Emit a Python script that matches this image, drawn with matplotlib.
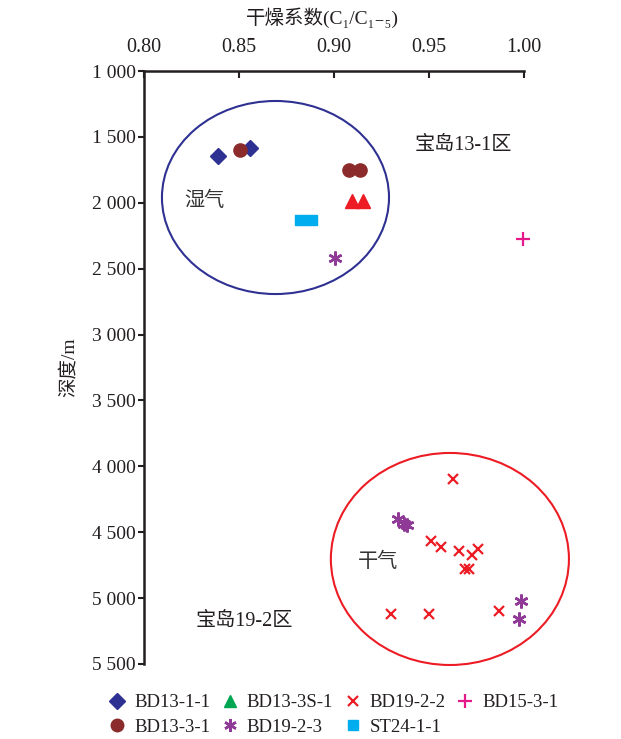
import matplotlib
matplotlib.use("Agg")
import matplotlib.pyplot as plt
from matplotlib.patches import Ellipse
from matplotlib.lines import Line2D
from matplotlib.path import Path

plt.rcParams['font.family'] = ['Liberation Serif', 'Noto Sans CJK SC', 'DejaVu Serif']

# data
bd13_1_1_x = [0.839, 0.856]
bd13_1_1_y = [1645, 1583]
bd13_3_1_x = [0.8505, 0.908, 0.9137]
bd13_3_1_y = [1598, 1750, 1750]
bd13_3s_1_x = [0.9095, 0.915]
bd13_3s_1_y = [1990, 1990]
bd19_2_2_x = [0.9626, 0.951, 0.9563, 0.9658, 0.9726, 0.9758, 0.969, 0.971, 0.930, 0.950, 0.9868]
bd19_2_2_y = [4098, 4568, 4614, 4644, 4674, 4629, 4780, 4780, 5117, 5117, 5095]
bd19_2_3_x = [0.9005, 0.9337, 0.937, 0.9384, 0.9984, 0.9974]
bd19_2_3_y = [2420, 4396, 4439, 4447, 5023, 5159]
bd15_3_1_x = [0.9995]
bd15_3_1_y = [2273]
st24_1_1_x = [0.885]
st24_1_1_y = [2130]

x_ticks = [0.80, 0.85, 0.90, 0.95, 1.00]
y_ticks = [1000, 1500, 2000, 2500, 3000, 3500, 4000, 4500, 5000, 5500]
y_labels = ['1 000', '1 500', '2 000', '2 500', '3 000', '3 500', '4 000', '4 500', '5 000', '5 500']

navy = '#2e3192'
brown = '#8b2b2b'
red = '#ed1c24'
green = '#00a651'
magenta = '#e6198a'
purple = '#8e3a96'
cyan = '#00aeef'

rect = Path([(-1, -0.42), (1, -0.42), (1, 0.42), (-1, 0.42), (-1, -0.42)],
            [Path.MOVETO, Path.LINETO, Path.LINETO, Path.LINETO, Path.CLOSEPOLY])
star = (6, 2, 0)

fig = plt.figure(figsize=(6.21, 7.39), dpi=100)
ax = fig.add_axes([144/621, 1 - 664/739, 380/621, 593/739])

kw = dict(ls='none', clip_on=False)
ax.plot(bd13_1_1_x, bd13_1_1_y, 'D', color=navy, ms=8.5, **kw)
ax.plot(bd13_3_1_x, bd13_3_1_y, 'o', color=brown, ms=9.5, **kw)
ax.plot(bd13_3s_1_x, bd13_3s_1_y, '^', color=red, ms=9.5, **kw)
ax.plot(bd19_2_2_x, bd19_2_2_y, 'x', color=red, ms=7, mew=1.6, **kw)
ax.plot(bd19_2_3_x, bd19_2_3_y, marker=star, color=purple, ms=10, mew=1.8, **kw)
ax.plot(bd15_3_1_x, bd15_3_1_y, '+', color=magenta, ms=10, mew=1.6, **kw)
ax.plot(st24_1_1_x, st24_1_1_y, marker=rect, color=cyan, ms=16, **kw)

ax.add_patch(Ellipse((0.8692, 1960), 0.1195, 1465, fill=False, ec=navy, lw=1.5, clip_on=False))
ax.add_patch(Ellipse((0.961, 4703), 0.1253, 1609, fill=False, ec=red, lw=1.5, clip_on=False))

ax.text(0.968, 1569, '宝岛13-1区', fontsize=14.5, ha='center', va='center', color='#231f20')
ax.text(0.853, 5180, '宝岛19-2区', fontsize=14.5, ha='center', va='center', color='#231f20')
ax.text(0.832, 1986, '湿气', fontsize=14.5, ha='center', va='center', color='#333333')
ax.text(0.923, 4726, '干气', fontsize=14.5, ha='center', va='center', color='#333333')

ax.set_xlim(0.80, 1.00)
ax.set_ylim(5500, 1000)
ax.xaxis.tick_top()
ax.set_xticks(x_ticks)
ax.set_xticklabels(['%.2f' % v for v in x_ticks])
ax.set_yticks(y_ticks)
ax.set_yticklabels(y_labels)
ax.tick_params(axis='x', direction='in', length=5, width=1.5, labelsize=14.5, pad=10,
               colors='#231f20')
ax.tick_params(axis='y', direction='out', length=4, width=1.5, labelsize=14, pad=2,
               colors='#231f20')
fig.text(322/621, 1 - 18/739, '干燥系数(C₁/C₁₋₅)', fontsize=14, ha='center', va='center',
         color='#231f20')
ax.set_ylabel('深度/m', fontsize=14, labelpad=10, color='#231f20')

for s in ['right', 'bottom']:
    ax.spines[s].set_visible(False)
for s in ['left', 'top']:
    ax.spines[s].set_linewidth(1.8)
    ax.spines[s].set_color('#231f20')

handles = [
    Line2D([], [], marker='D', color=navy, ms=8, ls='none'),
    Line2D([], [], marker='o', color=brown, ms=9, ls='none'),
    Line2D([], [], marker='^', color=green, ms=9, ls='none'),
    Line2D([], [], marker=star, color=purple, ms=9, mew=1.8, ls='none'),
    Line2D([], [], marker='x', color=red, ms=7, mew=1.6, ls='none'),
    Line2D([], [], marker='s', color=cyan, ms=7, ls='none'),
    Line2D([], [], marker='+', color=magenta, ms=10, mew=1.6, ls='none'),
]
labels = ['BD13-1-1', 'BD13-3-1', 'BD13-3S-1', 'BD19-2-3', 'BD19-2-2', 'ST24-1-1', 'BD15-3-1']
fig.legend(handles, labels, ncol=4, loc='upper left', bbox_to_anchor=(108/621, 1 - 694/739),
           frameon=False, fontsize=13.5, handlelength=1.0, handletextpad=0.4,
           columnspacing=0.55, labelspacing=0.4, borderaxespad=0, borderpad=0,
           labelcolor='#231f20')

fig.savefig('out.png', dpi=100, facecolor='white')
